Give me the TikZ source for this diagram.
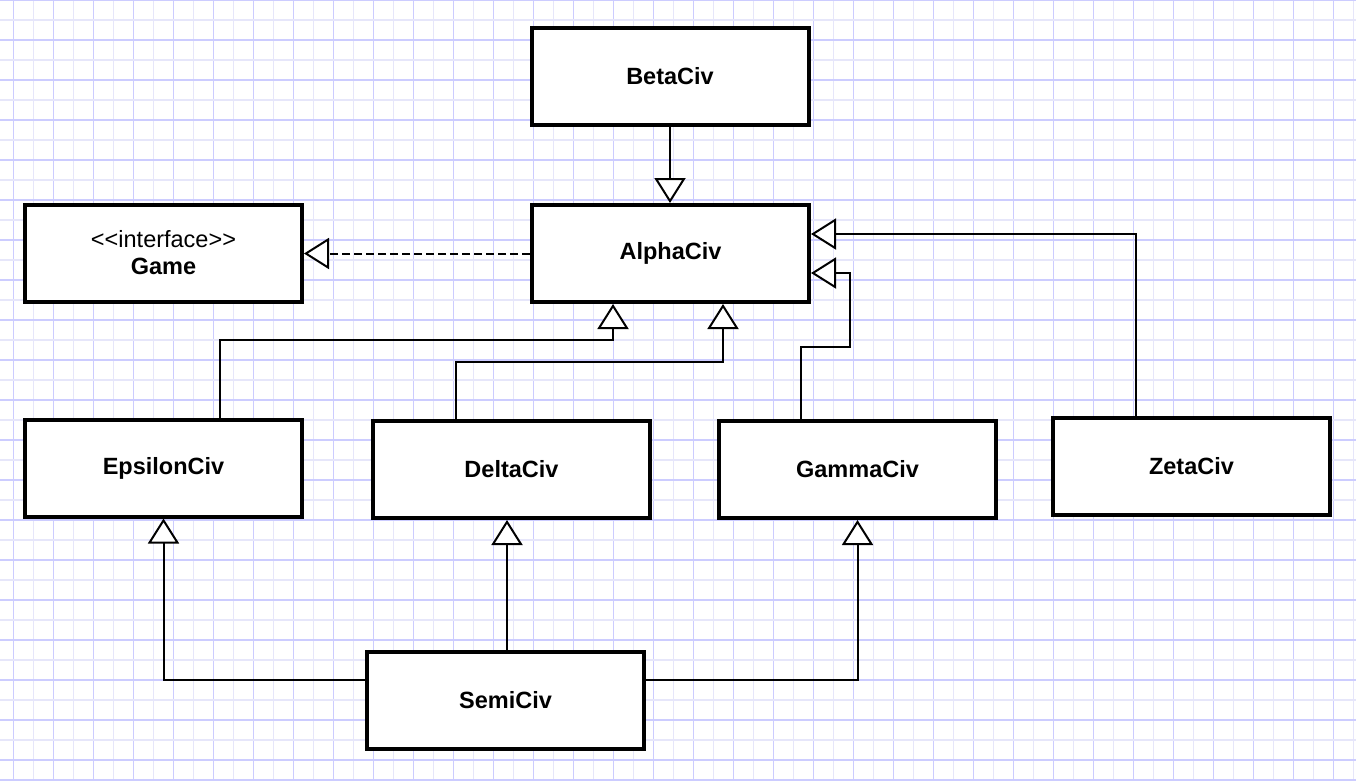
\documentclass[tikz,border=0pt]{standalone}
\usepackage{fontspec}
\setmainfont{Liberation Sans}
\usetikzlibrary{arrows.meta}
\definecolor{gridmajor}{HTML}{CCCCFF}
\definecolor{gridminor}{HTML}{E6E6FA}
\tikzset{
  classbox/.style={draw, line width=4pt, fill=white, minimum width=277pt, minimum height=97pt, align=center, font=\fontsize{23.5}{27}\selectfont\bfseries},
  inherit/.style={line width=2pt, -{Triangle[width=31pt,length=25pt,fill=white]}},
  realize/.style={inherit, dash pattern=on 8pt off 4pt},
}
\begin{document}
\begin{tikzpicture}[x=1pt,y=-1pt]
\useasboundingbox (0,0) rectangle (1356,780);
\fill[white] (0,0) rectangle (1356,780);
% grid paper
\foreach \i in {0,...,33} {
  \draw[gridminor, line width=1.3pt] (33.33+40*\i,0) -- (33.33+40*\i,780);
  \draw[gridmajor, line width=1.3pt] (13.33+40*\i,0) -- (13.33+40*\i,780);
}
\foreach \j in {0,...,19} {
  \draw[gridminor, line width=1.3pt] (0,20+40*\j) -- (1356,20+40*\j);
  \draw[gridmajor, line width=1.3pt] (0,40*\j) -- (1356,40*\j);
}
\draw[gridmajor, line width=1.3pt] (0,780) -- (1356,780);
% classes
\node[classbox] (beta) at (670,76) {BetaCiv};
\node[classbox] (alpha) at (670.5,253.5) {AlphaCiv};
\node[classbox] (game) at (163.5,253) {{\mdseries <{}<interface>{}>}\\Game};
\node[classbox] (epsilon) at (163.5,468) {EpsilonCiv};
\node[classbox] (delta) at (511.5,469.5) {DeltaCiv};
\node[classbox] (gamma) at (857.5,469.5) {GammaCiv};
\node[classbox] (zeta) at (1191.5,466) {ZetaCiv};
\node[classbox] (semi) at (505.5,700) {SemiCiv};
% generalisation
\draw[inherit] (beta.south) -- (beta.south |- alpha.north);
\draw[realize] (alpha.west) -- (alpha.west -| game.east); %interface
\draw[inherit] (epsilon.north -| 220,0) |- (613,340) -- (613,0 |- alpha.south);
\draw[inherit] (delta.north -| 456,0) |- (723,362) -- (723,0 |- alpha.south);
\draw[inherit] (gamma.north -| 801,0) |- (850,347) |- (alpha.east |- 0,273);
\draw[inherit] (zeta.north -| 1136,0) |- (alpha.east |- 0,234);
\draw[inherit] (semi.west |- 0,680) -| (epsilon.south);
\draw[inherit] (semi.north -| 507,0) -- (507,0 |- delta.south);
\draw[inherit] (semi.east |- 0,680) -| (gamma.south);
\end{tikzpicture}
\end{document}
